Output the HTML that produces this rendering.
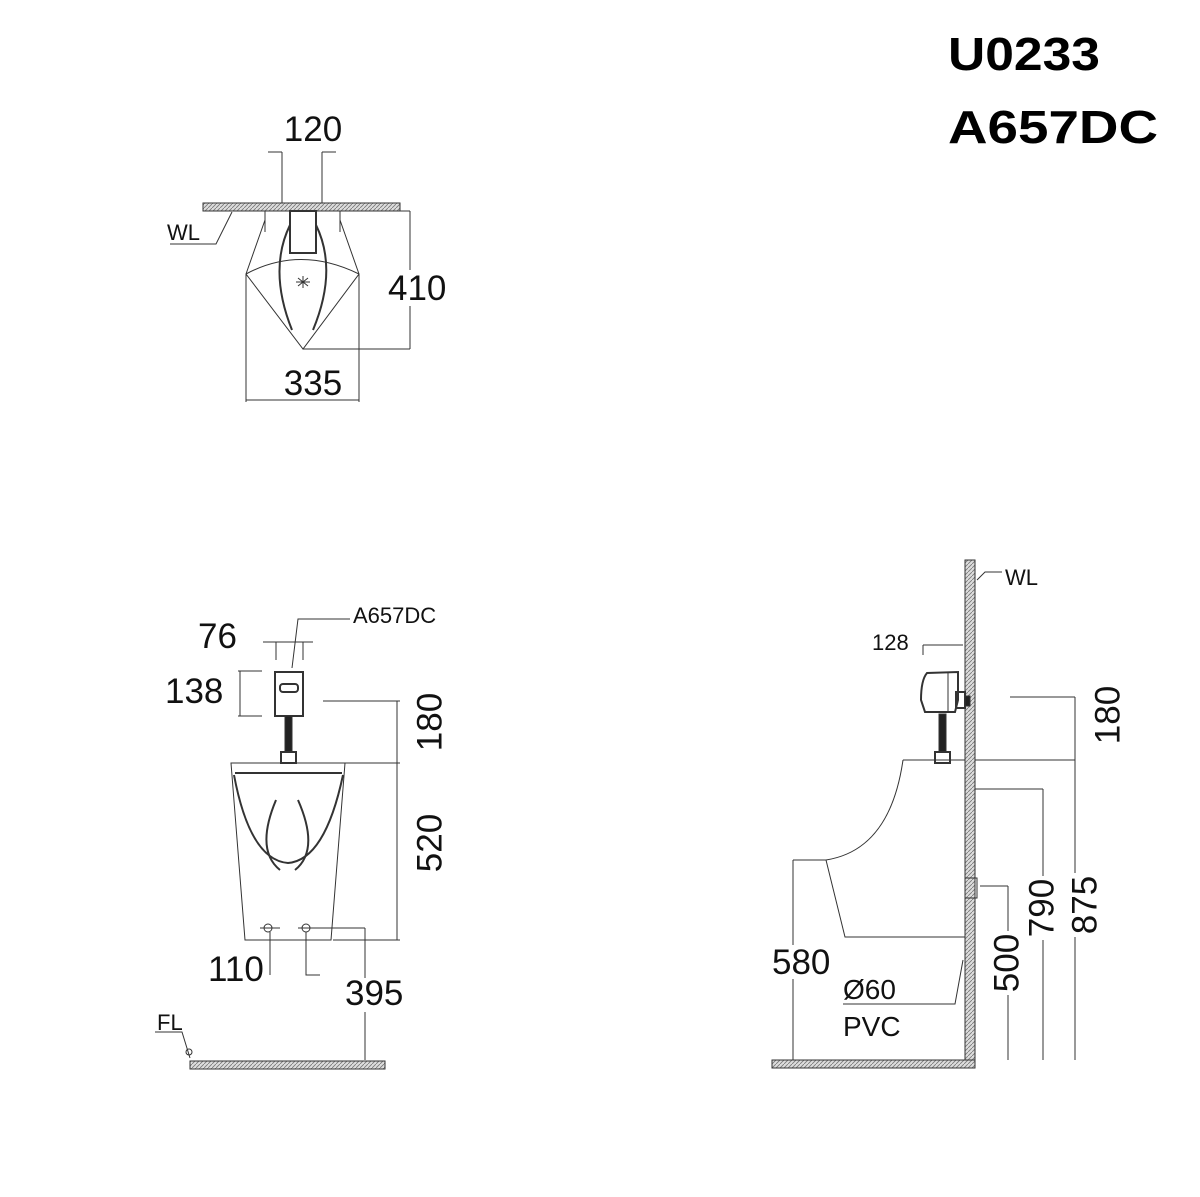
<!DOCTYPE html>
<html><head><meta charset="utf-8"><style>
html,body{margin:0;padding:0;background:#fff;}
svg{display:block;}
text{font-family:"Liberation Sans",sans-serif;fill:#111;}
</style></head><body>
<svg width="1200" height="1197" viewBox="0 0 1200 1197" xmlns="http://www.w3.org/2000/svg">
<defs>
<pattern id="h" width="4" height="4" patternUnits="userSpaceOnUse"><rect width="4" height="4" fill="#ddd"/><path d="M0 4L4 0" stroke="#777" stroke-width="0.8"/></pattern>
</defs>
<text x="948" y="70" font-size="46" font-weight="bold" textLength="152" lengthAdjust="spacingAndGlyphs" style="fill:#000">U0233</text>
<text x="948" y="143" font-size="46" font-weight="bold" textLength="210" lengthAdjust="spacingAndGlyphs" style="fill:#000">A657DC</text>

<g stroke="#333" stroke-width="1" fill="none">
<!-- TOP VIEW -->
<rect x="203" y="203" width="197" height="8" fill="url(#h)"/>
<line x1="282" y1="152" x2="282" y2="203"/><line x1="322" y1="152" x2="322" y2="203"/>
<line x1="268" y1="152" x2="282" y2="152"/><line x1="322" y1="152" x2="336" y2="152"/>
<line x1="265" y1="211" x2="265" y2="232"/><line x1="340" y1="211" x2="340" y2="232"/>
<path d="M265 220 L246 274 L303 349 L359 274 L340 220"/>
<path d="M246 274 Q300 245 359 274"/>
<path d="M290 225 Q268 270 292 330" stroke-width="2"/><path d="M316 225 Q338 270 313 330" stroke-width="2"/>
<rect x="290" y="211" width="26" height="42" stroke-width="2"/>
<line x1="303" y1="349" x2="410" y2="349"/><line x1="400" y1="211" x2="410" y2="211"/>
<line x1="410" y1="211" x2="410" y2="349"/>
<line x1="246" y1="274" x2="246" y2="402"/><line x1="359" y1="274" x2="359" y2="402"/>
<line x1="246" y1="400" x2="359" y2="400"/>
<path d="M170 244 L216 244 L232 212"/>
<path d="M298 278 l10 8 M308 278 l-10 8 M303 276 v12 M296 282 h14"/>

<!-- FRONT VIEW -->
<rect x="275" y="672" width="28" height="44" stroke-width="2"/>
<rect x="280" y="684" width="18" height="8" rx="3" stroke-width="2"/>
<rect x="285" y="716" width="7" height="36" fill="#222"/>
<rect x="281" y="752" width="15" height="11" stroke-width="2"/>
<path d="M231 763 L345 763 L331 940 L245 940 Z"/>
<line x1="235" y1="773" x2="342" y2="773" stroke-width="2"/>
<path d="M234 775 Q250 860 288 863 Q325 860 343 775" stroke-width="2"/>
<path d="M276 800 Q255 850 280 870 M298 800 Q320 850 295 870" stroke-width="2"/>
<line x1="263" y1="642" x2="313" y2="642"/>
<line x1="276" y1="642" x2="276" y2="660"/><line x1="303" y1="642" x2="303" y2="660"/>
<line x1="238" y1="671" x2="262" y2="671"/><line x1="238" y1="716" x2="262" y2="716"/>
<line x1="240" y1="671" x2="240" y2="716"/>
<path d="M350 619 L298 619 L292 668"/>
<line x1="323" y1="701" x2="400" y2="701"/><line x1="345" y1="763" x2="400" y2="763"/>
<line x1="333" y1="940" x2="400" y2="940"/>
<line x1="397" y1="701" x2="397" y2="940"/>
<circle cx="268" cy="928" r="4"/><circle cx="306" cy="928" r="4"/>
<line x1="260" y1="928" x2="280" y2="928"/><line x1="298" y1="928" x2="365" y2="928"/>
<line x1="270" y1="932" x2="270" y2="975"/>
<path d="M306 932 L306 975 L320 975"/>
<line x1="365" y1="928" x2="365" y2="1060"/>
<rect x="190" y="1061" width="195" height="8" fill="url(#h)"/>
<path d="M155 1032 L182 1032 L190 1058"/>
<circle cx="189" cy="1052" r="3"/>

<!-- SIDE VIEW -->
<rect x="965" y="560" width="10" height="508" fill="url(#h)"/>
<rect x="772" y="1060" width="203" height="8" fill="url(#h)"/>
<path d="M977 580 L985 572 L1002 572"/>
<path d="M927 673 Q921 680 921 700 L925 712 L955 712 L958 700 L958 672 Z" stroke-width="2"/>
<line x1="948" y1="672" x2="948" y2="712"/>
<rect x="956" y="692" width="9" height="16" stroke-width="2"/>
<rect x="965" y="696" width="5" height="10" fill="#222"/>
<rect x="939" y="714" width="7" height="38" fill="#222"/>
<rect x="935" y="752" width="15" height="11" stroke-width="2"/>
<path d="M903 760 L965 760"/>
<path d="M903 760 Q890 850 826 860"/>
<path d="M826 860 L845 937 L965 937"/>
<path d="M963 960 L955 1004 L843 1004"/>
<line x1="923" y1="645" x2="963" y2="645"/><line x1="923" y1="645" x2="923" y2="655"/>
<line x1="1010" y1="697" x2="1075" y2="697"/><line x1="975" y1="760" x2="1075" y2="760"/>
<line x1="1075" y1="697" x2="1075" y2="1060"/>
<line x1="975" y1="789" x2="1043" y2="789"/><line x1="1043" y1="789" x2="1043" y2="1060"/>
<line x1="980" y1="886" x2="1008" y2="886"/><line x1="1008" y1="886" x2="1008" y2="1060"/>
<line x1="793" y1="860" x2="826" y2="860"/><line x1="793" y1="860" x2="793" y2="1060"/>
<rect x="965" y="878" width="12" height="20"/>
</g>
<!-- white backgrounds for labels on lines -->
<rect x="392" y="270" width="54" height="36" fill="#fff"/>
<rect x="414" y="690" width="32" height="64" fill="#fff"/>
<rect x="414" y="811" width="32" height="64" fill="#fff"/>
<rect x="1092" y="683" width="32" height="64" fill="#fff"/>
<rect x="1069" y="873" width="32" height="64" fill="#fff"/>
<rect x="1026" y="876" width="32" height="64" fill="#fff"/>
<rect x="991" y="931" width="32" height="64" fill="#fff"/>
<rect x="772" y="945" width="60" height="34" fill="#fff"/>
<rect x="345" y="978" width="64" height="34" fill="#fff"/>

<text x="313" y="141" font-size="35" text-anchor="middle">120</text>
<text x="388" y="300" font-size="35">410</text>
<text x="313" y="395" font-size="35" text-anchor="middle">335</text>
<text x="167" y="240" font-size="22">WL</text>

<text x="353" y="623" font-size="22">A657DC</text>
<text x="198" y="648" font-size="35">76</text>
<text x="165" y="703" font-size="35">138</text>
<text font-size="35" text-anchor="middle" dominant-baseline="central" transform="translate(430 722) rotate(-90)">180</text>
<text font-size="35" text-anchor="middle" dominant-baseline="central" transform="translate(430 843) rotate(-90)">520</text>
<text x="208" y="981" font-size="35">110</text>
<text x="345" y="1005" font-size="35">395</text>
<text x="157" y="1030" font-size="22">FL</text>

<text x="1005" y="585" font-size="22">WL</text>
<text x="872" y="650" font-size="22">128</text>
<text font-size="35" text-anchor="middle" dominant-baseline="central" transform="translate(1108 715) rotate(-90)">180</text>
<text font-size="35" text-anchor="middle" dominant-baseline="central" transform="translate(1085 905) rotate(-90)">875</text>
<text font-size="35" text-anchor="middle" dominant-baseline="central" transform="translate(1042 908) rotate(-90)">790</text>
<text font-size="35" text-anchor="middle" dominant-baseline="central" transform="translate(1007 963) rotate(-90)">500</text>
<text x="772" y="974" font-size="35">580</text>
<text x="843" y="999" font-size="28">Ø60</text>
<text x="843" y="1036" font-size="28">PVC</text>
</svg>
</body></html>
